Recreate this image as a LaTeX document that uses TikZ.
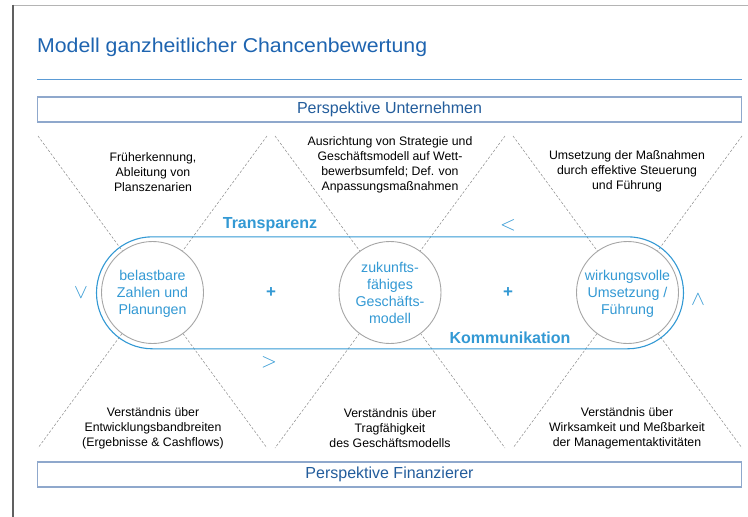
\documentclass[tikz,border=0pt]{standalone}
\usepackage{fontspec}
\setmainfont{Liberation Sans}
\definecolor{titleblue}{HTML}{1E64B0}
\definecolor{boxtext}{HTML}{235D9C}
\definecolor{boxborder}{HTML}{8FA8CC}
\definecolor{rulecol}{HTML}{5B9BD5}
\definecolor{lblue}{HTML}{3399D4}
\definecolor{circgray}{HTML}{A6A6A6}
\definecolor{dashgray}{HTML}{8A8A8A}
\definecolor{frameleft}{HTML}{606060}
\definecolor{frametop}{HTML}{B4B4B4}
\tikzset{
  persbox/.style={draw=boxborder, line width=1.1pt, minimum width=704pt, minimum height=25pt, inner sep=0pt,
    text=boxtext, font=\fontsize{16}{18}\selectfont},
  zig/.style={draw=dashgray, line width=0.5pt, dash pattern=on 2.5pt off 1.8pt},
  circ/.style={circle, draw=circgray, line width=0.9pt, fill=white, minimum size=102pt, inner sep=0pt},
  ctext/.style={align=center, text=lblue, font=\fontsize{14.2}{17}\selectfont, inner sep=0pt},
  small/.style={align=center, text=black, font=\fontsize{12.3}{15}\selectfont, inner sep=0pt},
  stad/.style={draw=lblue, line width=1.1pt},
  keyword/.style={text=lblue, font=\bfseries\fontsize{16}{18}\selectfont, inner sep=0pt},
  plussign/.style={text=lblue, font=\bfseries\fontsize{17}{18}\selectfont, inner sep=0pt},
  chev/.style={text=lblue, font=\fontsize{20}{20}\selectfont, inner sep=0pt}
}
\begin{document}
\begin{tikzpicture}[x=1pt,y=-1pt]
\useasboundingbox (0,0) rectangle (748,517);
\fill[white] (0,0) rectangle (748,517);
% frame
\draw[frametop, line width=1pt] (13,5) -- (748,5);
\draw[frameleft, line width=1.8pt] (13,4.5) -- (13,517);
% title
\node[anchor=base west, inner sep=0pt, text=titleblue, font=\fontsize{20}{22}\selectfont, xscale=1.063] (title) at (37,52.5) {Modell ganzheitlicher Chancenbewertung};
\draw[rulecol, line width=1.8pt] (37,79.5) -- (742,79.5);
% perspective boxes
\node[persbox] (pu) at (389.5,109.5) {Perspektive Unternehmen};
\node[persbox] (pf) at (389.5,474.5) {Perspektive Finanzierer};
% zigzag coordinates
\coordinate (t1) at (38,136);  \coordinate (t2) at (267,136); \coordinate (t3) at (275,136);
\coordinate (t4) at (505,136); \coordinate (t5) at (513,136); \coordinate (t6) at (742,136);
\coordinate (b1) at (38,448);  \coordinate (b2) at (267,448); \coordinate (b3) at (275,448);
\coordinate (b4) at (505,448); \coordinate (b5) at (513,448); \coordinate (b6) at (742,448);
\draw[zig] (t1) -- (b2);
\draw[zig] (t2) -- (b1);
\draw[zig] (t3) -- (b4);
\draw[zig] (t4) -- (b3);
\draw[zig] (t5) -- (b6);
\draw[zig] (t6) -- (b5);
% stadium
\draw[stad, rounded corners=55.9pt] (96.5,236.8) rectangle (683.5,348.8);
% circles
\node[circ] (c1) at (152.5,292.5) {};
\node[circ] (c2) at (390,292.5) {};
\node[circ] (c3) at (627.5,292.5) {};
\node[ctext] (c1t) at (152.5,293.5) {belastbare\\Zahlen und\\Planungen};
\node[ctext] (c2t) at (390,293) {zukunfts-\\fähiges\\Geschäfts-\\modell};
\node[ctext] (c3t) at (627.5,293.5) {wirkungsvolle\\Umsetzung /\\Führung};
% plus signs
\node[plussign] (p1) at (271,293) {+};
\node[plussign] (p2) at (508,293) {+};
% keywords
\node[keyword] (tr) at (270,225) {Transparenz};
\node[keyword] (ko) at (510,337.5) {Kommunikation};
% chevrons
\node[chev, rotate=90] (chl) at (81,293) {$<$};
\node[chev, rotate=-90] (chr) at (698,299) {$<$};
\node[chev] (cht) at (508,225) {$<$};
\node[chev] (chb) at (269,362) {$>$};
% top texts
\node[small] (tt1) at (153,172.5) {Früherkennung,\\Ableitung von\\Planszenarien};
\node[small] (tt2) at (390,165) {Ausrichtung von Strategie und\\Geschäftsmodell auf Wett-\\bewerbsumfeld; Def. von\\Anpassungsmaßnahmen};
\node[small] (tt3) at (627,171.5) {Umsetzung der Maßnahmen\\durch effektive Steuerung\\und Führung};
% bottom texts
\node[small] (bt1) at (153,428.5) {Verständnis über\\Entwicklungsbandbreiten\\(Ergebnisse \& Cashflows)};
\node[small] (bt2) at (390,428.5) {Verständnis über\\Tragfähigkeit\\des Geschäftsmodells};
\node[small] (bt3) at (627,428.5) {Verständnis über\\Wirksamkeit und Meßbarkeit\\der Managementaktivitäten};
\end{tikzpicture}
\end{document}
